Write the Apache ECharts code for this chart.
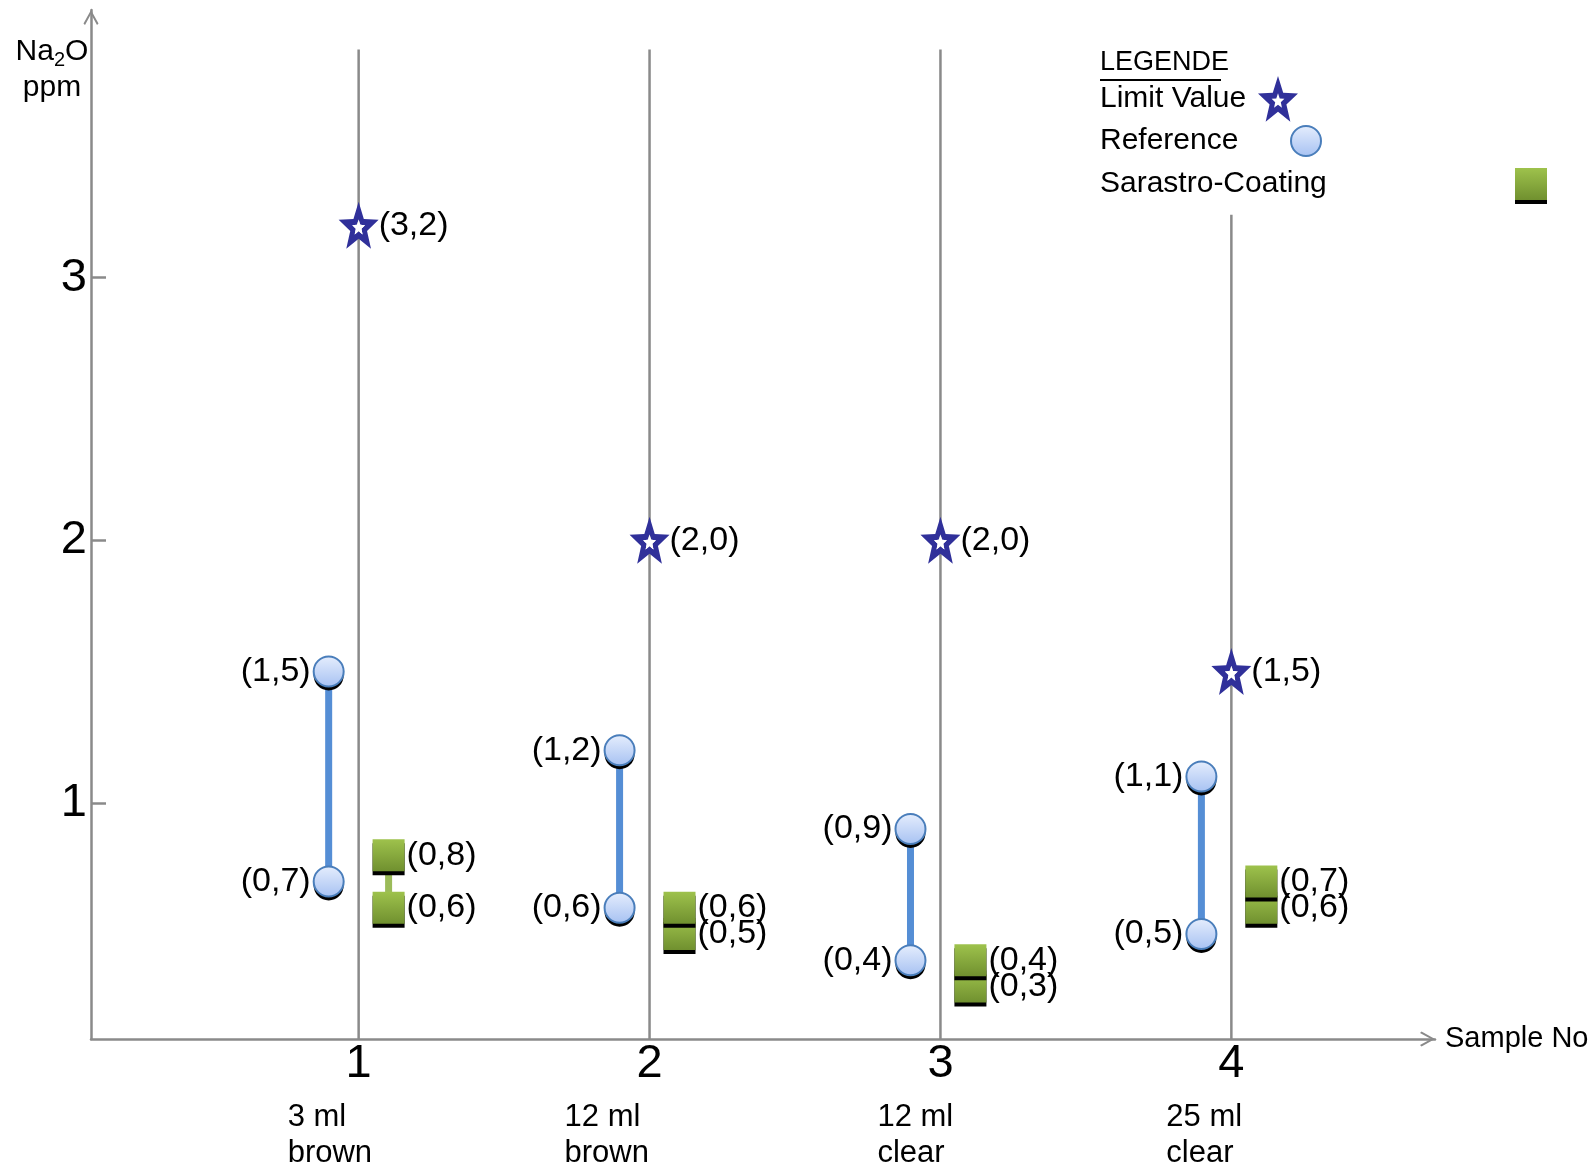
<!DOCTYPE html>
<html>
<head>
<meta charset="utf-8">
<script src="https://cdn.jsdelivr.net/npm/echarts@6/dist/echarts.min.js"></script>
<style>
html,body{margin:0;padding:0;background:#fff;}
#chart{width:1596px;height:1174px;}
</style>
</head>
<body>
<div id="chart"></div>
<script>
// ---------------- data ----------------
const SAMPLES = [1, 2, 3, 4];
const SAMPLE_VOLUME = ['3 ml', '12 ml', '12 ml', '25 ml'];
const SAMPLE_GLASS = ['brown', 'brown', 'clear', 'clear'];
const LIMIT_VALUE = [3.2, 2.0, 2.0, 1.5];
const REFERENCE_HIGH = [1.5, 1.2, 0.9, 1.1];
const REFERENCE_LOW = [0.7, 0.6, 0.4, 0.5];
const COATING_HIGH = [0.8, 0.6, 0.4, 0.7];
const COATING_LOW = [0.6, 0.5, 0.3, 0.6];
const Y_TICKS = [1, 2, 3];
const X_TICKS = [1, 2, 3, 4];

// ---------------- layout / style ----------------
const Y_MIN = 0.1, Y_MAX = 4.02, X_MIN = 0.08, X_MAX = 4.7;
const REF_SHIFT = -0.103, COAT_SHIFT = 0.103;
const GUIDE_TOP = [3.87, 3.87, 3.87, 3.24];
const SUBLABEL_PAD = [52, 80, 36, 40];
const FONT = "'Liberation Sans', Arial, sans-serif";
const GRAY = '#8a8a8a';
const NAVY = '#30309a';

function fmt(v) { return '(' + v.toFixed(1).replace('.', ',') + ')'; }

function starPts(R, r, sy, reverse) {
  const pts = [];
  for (let k = 0; k < 10; k++) {
    const a = (-90 + k * 36) * Math.PI / 180;
    const rad = k % 2 === 0 ? R : r;
    pts.push([rad * Math.cos(a), rad * Math.sin(a) * sy]);
  }
  if (reverse) pts.reverse();
  return pts;
}
function ptsToPath(pts) {
  return 'M' + pts.map(p => p[0].toFixed(2) + ',' + p[1].toFixed(2)).join(' L') + ' Z';
}
const OUTER = starPts(50, 21, 1.2, false);
const HOLE = starPts(16, 7, 1.2, true);
const CORE = starPts(16, 7, 1.2, false);
const xs = OUTER.map(p => p[0]), ys = OUTER.map(p => p[1]);
const bbMin = [Math.min(...xs), Math.min(...ys)], bbMax = [Math.max(...xs), Math.max(...ys)];
const STAR_SYMBOL = 'path://' + ptsToPath(OUTER) + ' ' + ptsToPath(HOLE);
const STAR_CORE = 'path://M' + bbMin[0].toFixed(2) + ',' + bbMin[1].toFixed(2) + ' Z M' +
  bbMax[0].toFixed(2) + ',' + bbMax[1].toFixed(2) + ' Z ' + ptsToPath(CORE);
const CHEVRON = 'path://M0,90 L50,0 L100,90 L90,100 L50,26 L10,100 Z';

const chart = echarts.init(document.getElementById('chart'), null, { renderer: 'canvas' });

function lineRender(color, width, fromAxis) {
  return function (params, api) {
    const x = api.value(0);
    const p0 = api.coord([x, fromAxis ? Y_MIN : api.value(1)]);
    const p1 = api.coord([x, fromAxis ? api.value(1) : api.value(2)]);
    return {
      type: 'line',
      shape: { x1: p0[0], y1: p0[1], x2: p1[0], y2: p1[1] },
      style: { stroke: color, lineWidth: width }
    };
  };
}

const labelBase = { show: true, fontFamily: FONT, fontSize: 34, color: '#000', distance: 2 };

function legendText(w) {
  return { fontFamily: FONT, fontSize: 30, color: '#000',
    rich: { t: { width: w, align: 'left', fontFamily: FONT, fontSize: 30, color: '#000' } } };
}
function legendRow(name, top, iw, ih, textW, itemStyle) {
  const l = { orient: 'vertical', left: 1100, top: top, padding: 0, itemWidth: iw, itemHeight: ih,
    align: 'right', formatter: '{t|{name}}', data: [name], textStyle: legendText(textW) };
  if (itemStyle) l.itemStyle = itemStyle;
  return l;
}

const subRich = {};
SUBLABEL_PAD.forEach((p, i) => {
  subRich['s' + i] = { fontFamily: FONT, fontSize: 31, lineHeight: 36, color: '#000', width: 90, align: 'left', padding: [0, p, 0, 0] };
});
subRich.n = { fontFamily: FONT, fontSize: 47, lineHeight: 70, color: '#000' };

const circleFill = { type: 'linear', x: 0, y: 0, x2: 0, y2: 1,
  colorStops: [{ offset: 0, color: '#e6eefd' }, { offset: 1, color: '#a6c1f2' }] };
const squareFill = { type: 'linear', x: 0, y: 0, x2: 0, y2: 1,
  colorStops: [{ offset: 0, color: '#9ec24c' }, { offset: 1, color: '#70902f' }] };

const refData = SAMPLES.map((s, i) => [s + REF_SHIFT, REFERENCE_HIGH[i]])
  .concat(SAMPLES.map((s, i) => [s + REF_SHIFT, REFERENCE_LOW[i]]));
const coatData = SAMPLES.map((s, i) => [s + COAT_SHIFT, COATING_LOW[i]])
  .concat(SAMPLES.map((s, i) => [s + COAT_SHIFT, COATING_HIGH[i]]));

const option = {
  animation: false,
  backgroundColor: '#fff',
  grid: { left: 91, right: 161, top: 10, bottom: 135, outerBoundsMode: 'none', containLabel: false },
  title: {
    text: '{u|LEGENDE}\n{ul|}', left: 1100, top: 48, padding: 0,
    textStyle: {
      rich: {
        u: { fontFamily: FONT, fontSize: 27, fontWeight: 'normal', color: '#000', lineHeight: 30 },
        ul: { width: 121, height: 2, backgroundColor: '#000', lineHeight: 4 }
      }
    }
  },
  legend: [
    legendRow('Limit Value', 76, 40, 47, 153),
    legendRow('Reference', 125, 30, 30, 186),
    legendRow('Sarastro-Coating', 168, 32, 32, 410,
      { shadowColor: '#000', shadowBlur: 0, shadowOffsetY: 4, borderWidth: 0 })
  ],
  xAxis: {
    type: 'value', min: X_MIN, max: X_MAX,
    name: 'Sample No', nameLocation: 'end', nameGap: 10,
    nameTextStyle: { fontFamily: FONT, fontSize: 29, color: '#000' },
    axisLine: { show: true, onZero: false, lineStyle: { color: GRAY, width: 2.5 },
      symbol: ['none', CHEVRON], symbolSize: [16, 15], symbolOffset: [0, -7.5] },
    axisTick: { show: false },
    splitLine: { show: false },
    axisLabel: {
      customValues: X_TICKS, margin: -10, color: '#000', fontFamily: FONT,
      formatter: function (v) {
        const i = SAMPLES.indexOf(v);
        return '{n|' + v + '}\n{s' + i + '|' + SAMPLE_VOLUME[i] + '}\n{s' + i + '|' + SAMPLE_GLASS[i] + '}';
      },
      rich: subRich
    }
  },
  yAxis: {
    type: 'value', min: Y_MIN, max: Y_MAX,
    name: '{a|Na}{s|2}{a|O}\n{a|ppm}', nameLocation: 'end', nameGap: -24,
    nameTextStyle: {
      align: 'center', verticalAlign: 'top', padding: [0, 78, 0, 0],
      rich: {
        a: { fontFamily: FONT, fontSize: 30, lineHeight: 36, color: '#000' },
        s: { fontFamily: FONT, fontSize: 20, lineHeight: 20, verticalAlign: 'bottom', color: '#000' }
      }
    },
    axisLine: { show: true, onZero: false, lineStyle: { color: GRAY, width: 2.5 },
      symbol: ['none', CHEVRON], symbolSize: [16, 15], symbolOffset: [0, -7.5] },
    axisTick: { show: true, inside: true, length: 15, customValues: Y_TICKS, lineStyle: { color: GRAY, width: 2.5 } },
    axisLabel: { customValues: Y_TICKS, margin: 4, fontFamily: FONT, fontSize: 47, color: '#000' },
    splitLine: { show: false }
  },
  series: [
    {
      type: 'custom', name: 'guides', silent: true, z: 1,
      data: SAMPLES.map((s, i) => [s, GUIDE_TOP[i]]),
      renderItem: lineRender(GRAY, 2.5, true)
    },
    {
      type: 'custom', name: 'reference-range', silent: true, z: 2,
      encode: { x: 0, y: [1, 2] },
      data: SAMPLES.map((s, i) => [s + REF_SHIFT, REFERENCE_LOW[i], REFERENCE_HIGH[i]]),
      renderItem: lineRender('#558ed5', 7, false)
    },
    {
      type: 'custom', name: 'coating-range', silent: true, z: 2,
      encode: { x: 0, y: [1, 2] },
      data: SAMPLES.map((s, i) => [s + COAT_SHIFT, COATING_LOW[i], COATING_HIGH[i]]),
      renderItem: lineRender('#9bbb59', 7, false)
    },
    {
      type: 'scatter', name: 'Limit Value', z: 3,
      symbol: STAR_SYMBOL, symbolSize: [40, 47], symbolKeepAspect: false,
      itemStyle: { color: NAVY, opacity: 1 },
      emphasis: { disabled: true },
      label: Object.assign({}, labelBase, { position: 'right', distance: 0, formatter: p => fmt(p.value[1]) }),
      data: SAMPLES.map((s, i) => [s, LIMIT_VALUE[i]])
    },
    {
      type: 'scatter', name: 'limit-core', z: 3, silent: true,
      symbol: STAR_CORE, symbolSize: [40, 47], symbolKeepAspect: false,
      itemStyle: { color: '#ffffff', opacity: 1 },
      emphasis: { disabled: true },
      data: SAMPLES.map((s, i) => [s, LIMIT_VALUE[i]])
    },
    {
      type: 'scatter', name: 'reference-shadow', z: 3, silent: true,
      symbol: 'circle', symbolSize: 30, symbolOffset: [0, 4],
      itemStyle: { color: '#000', opacity: 1 },
      emphasis: { disabled: true },
      data: refData
    },
    {
      type: 'scatter', name: 'Reference', z: 4,
      symbol: 'circle', symbolSize: 30, symbolKeepAspect: true,
      itemStyle: { color: circleFill, borderColor: '#4a7ebb', borderWidth: 2, opacity: 1 },
      emphasis: { disabled: true },
      label: Object.assign({}, labelBase, { position: 'left', formatter: p => fmt(p.value[1]) }),
      data: refData
    },
    {
      type: 'scatter', name: 'Sarastro-Coating', z: 4,
      symbol: 'rect', symbolSize: 32, symbolKeepAspect: true,
      itemStyle: { color: squareFill, borderWidth: 0, opacity: 1,
        shadowColor: '#000', shadowBlur: 0, shadowOffsetY: 4 },
      emphasis: { disabled: true },
      label: Object.assign({}, labelBase, { position: 'right', formatter: p => fmt(p.value[1]) }),
      data: coatData
    }
  ]
};
chart.setOption(option);
</script>
</body>
</html>
